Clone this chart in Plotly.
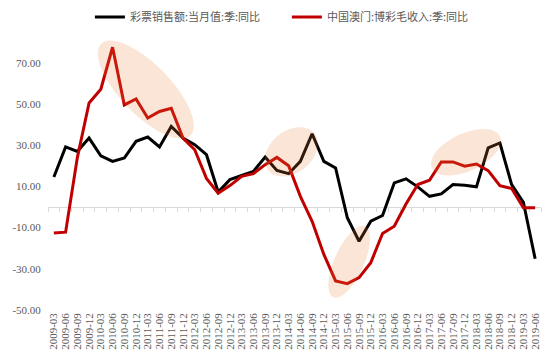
import numpy as np
import plotly.graph_objects as go

quarters = [
    "2009-03", "2009-06", "2009-09", "2009-12",
    "2010-03", "2010-06", "2010-09", "2010-12",
    "2011-03", "2011-06", "2011-09", "2011-12",
    "2012-03", "2012-06", "2012-09", "2012-12",
    "2013-03", "2013-06", "2013-09", "2013-12",
    "2014-03", "2014-06", "2014-09", "2014-12",
    "2015-03", "2015-06", "2015-09", "2015-12",
    "2016-03", "2016-06", "2016-09", "2016-12",
    "2017-03", "2017-06", "2017-09", "2017-12",
    "2018-03", "2018-06", "2018-09", "2018-12",
    "2019-03", "2019-06",
]

lottery_name = "彩票销售额:当月值:季:同比"
lottery_yoy = [
    14.6, 29.2, 27.0, 33.5, 24.9, 22.2, 23.8, 31.9, 34.0, 29.2, 39.1, 33.5,
    30.3, 25.4, 7.3, 13.3, 15.3, 17.3, 24.3, 17.8, 16.2, 22.2, 35.6, 22.2,
    19.0, -5.2, -16.6, -6.9, -4.1, 11.7, 13.7, 9.8, 5.2, 6.4, 10.9, 10.6,
    9.8, 28.7, 31.1, 10.9, 2.3, -25.1,
]

macau_name = "中国澳门:博彩毛收入:季:同比"
macau_yoy = [
    -12.6, -12.2, 24.0, 50.5, 57.2, 77.6, 49.6, 52.5, 43.2, 46.4, 48.0, 33.5,
    27.8, 13.9, 6.7, 10.4, 14.9, 16.2, 20.6, 24.1, 20.1, 5.2, -6.9, -23.0,
    -35.9, -37.2, -34.3, -27.0, -12.8, -9.3, 1.5, 10.9, 13.0, 21.9, 21.9, 19.8,
    20.9, 17.7, 10.4, 9.0, -0.4, -0.4,
]

y_ticks = [-50, -30, -10, 10, 30, 50, 70]
y_tick_labels = ["-50.00", "-30.00", "-10.00", "10.00", "30.00", "50.00", "70.00"]
y_range = [-50, 85]

# highlight ellipses: centre (index, value), semi-axis vectors in data units
ellipse_centres = [(7.83, 57.0), (20.23, 26.8), (25.16, -26.6), (35.11, 26.6)]
ellipse_axis_a = [(3.79, -22.3), (1.95, 9.0), (1.36, 17.2), (2.90, 7.7)]
ellipse_axis_b = [(1.53, 8.4), (1.12, -7.9), (1.14, -2.9), (0.68, -8.2)]

idx = list(range(len(quarters)))
n = len(quarters)

fig = go.Figure()
fig.add_trace(go.Scatter(x=idx, y=lottery_yoy, name=lottery_name, mode="lines",
                         line=dict(color="#000000", width=3)))
fig.add_trace(go.Scatter(x=idx, y=macau_yoy, name=macau_name, mode="lines",
                         line=dict(color="#C00000", width=3)))
# helper trace for the zero-line axis
fig.add_trace(go.Scatter(x=[0], y=[None], xaxis="x2", showlegend=False,
                         hoverinfo="skip", mode="lines"))

t = np.linspace(0, 2 * np.pi, 73)
for (cx, cy), (ax_, ay_), (bx_, by_) in zip(ellipse_centres, ellipse_axis_a, ellipse_axis_b):
    xs = cx + ax_ * np.cos(t) + bx_ * np.sin(t)
    ys = cy + ay_ * np.cos(t) + by_ * np.sin(t)
    path = "M " + " L ".join(f"{x:.4f},{y:.4f}" for x, y in zip(xs, ys)) + " Z"
    fig.add_shape(type="path", path=path, xref="x", yref="y",
                  fillcolor="rgba(237,125,49,0.2)", line=dict(width=0), layer="above")

tick_font = dict(family="Liberation Serif", size=11, color="#595959")

fig.update_layout(
    width=546, height=355,
    margin=dict(l=40, r=13, t=24, b=53, autoexpand=False),
    plot_bgcolor="white", paper_bgcolor="white",
    showlegend=True,
    legend=dict(orientation="h", x=0.085, xanchor="left", y=1.054, yanchor="middle",
                font=dict(family="Noto Sans CJK SC", size=11, color="#595959"),
                entrywidth=152, entrywidthmode="pixels", bgcolor="rgba(0,0,0,0)"),
    xaxis=dict(range=[-0.5, n - 0.5], tickmode="array", tickvals=idx, ticktext=quarters,
               tickangle=-90, showgrid=False, zeroline=False, showline=False,
               ticks="", tickfont=tick_font, automargin=False),
    xaxis2=dict(range=[-0.5, n - 0.5], overlaying="x", anchor="free",
                position=(0 - y_range[0]) / (y_range[1] - y_range[0]),
                tickmode="array", tickvals=[i - 0.5 for i in range(n + 1)],
                ticks="outside", ticklen=4, tickcolor="#D9D9D9", tickwidth=1,
                showline=True, linecolor="#D9D9D9", linewidth=1,
                showticklabels=False, showgrid=False, zeroline=False,
                layer="below traces", automargin=False),
    yaxis=dict(range=y_range, tickmode="array", tickvals=y_ticks, ticktext=y_tick_labels,
               showgrid=False, zeroline=False, showline=False, automargin=False,
               ticks="outside", ticklen=4, tickcolor="rgba(0,0,0,0)", tickfont=tick_font),
)

fig.write_html("out.html")
